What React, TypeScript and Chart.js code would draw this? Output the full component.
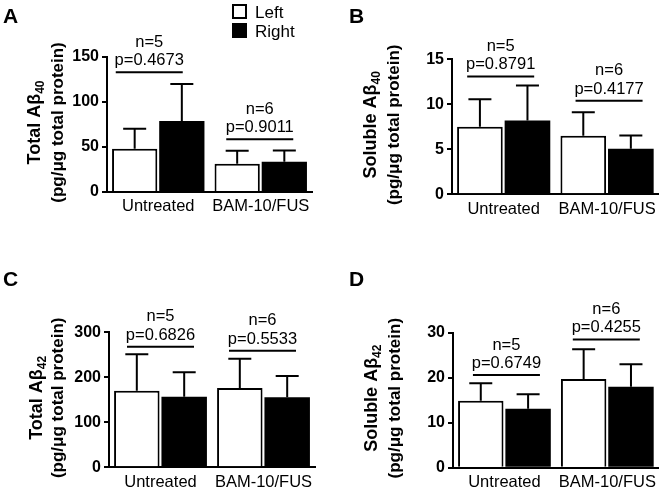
import React, { useEffect, useRef } from 'react';
import { Chart, registerables } from 'chart.js';

Chart.register(...registerables);

const FF = 'Arial, "Liberation Sans", Helvetica, sans-serif';

// Shared
const categories = ['Untreated', 'BAM-10/FUS'];
const seriesNames = ['Left', 'Right'];
const nLabels = ['n=5', 'n=6'];
const unitLabel = '(pg/\u03bcg total protein)';

// Panel A: Total Aβ40
const totalAb40Left = [48, 31.5];
const totalAb40LeftSem = [22.3, 14.2];
const totalAb40Right = [79, 33.5];
const totalAb40RightSem = [41, 12.7];
const totalAb40Bracket = [133, 58.5];
const totalAb40P = ['p=0.4673', 'p=0.9011'];
const totalAb40Max = 150;
const totalAb40Step = 50;

// Panel B: Soluble Aβ40
const solubleAb40Left = [7.5, 6.5];
const solubleAb40LeftSem = [3.05, 2.63];
const solubleAb40Right = [8.2, 5.07];
const solubleAb40RightSem = [3.88, 1.45];
const solubleAb40Bracket = [13.1, 10.4];
const solubleAb40P = ['p=0.8791', 'p=0.4177'];
const solubleAb40Max = 15;
const solubleAb40Step = 5;

// Panel C: Total Aβ42
const totalAb42Left = [170, 176];
const totalAb42LeftSem = [81, 65];
const totalAb42Right = [157, 155.5];
const totalAb42RightSem = [54, 47.5];
const totalAb42Bracket = [268, 259];
const totalAb42P = ['p=0.6826', 'p=0.5533'];
const totalAb42Max = 300;
const totalAb42Step = 100;

// Panel D: Soluble Aβ42
const solubleAb42Left = [14.9, 19.7];
const solubleAb42LeftSem = [3.85, 6.6];
const solubleAb42Right = [13.1, 18.0];
const solubleAb42RightSem = [3.2, 5.0];
const solubleAb42Bracket = [20.6, 28.5];
const solubleAb42P = ['p=0.6749', 'p=0.4255'];
const solubleAb42Max = 30;
const solubleAb42Step = 10;

type Area = { left: number; right: number; top: number; bottom: number };
type PanelCfg = {
  letter: string;
  left: number[];
  leftErr: number[];
  right: number[];
  rightErr: number[];
  bracket: number[];
  pLabels: string[];
  max: number;
  step: number;
  titleMain: string;
  titleSub: string;
  area: Area;
  pos: { x: number; y: number };
  letterPos: [number, number];
  titleX: [number, number];
  dx: number[];
  legend: boolean;
};

const W = 331;
const H = 246;

const panels: PanelCfg[] = [
  {
    letter: 'A', left: totalAb40Left, leftErr: totalAb40LeftSem, right: totalAb40Right, rightErr: totalAb40RightSem,
    bracket: totalAb40Bracket, pLabels: totalAb40P, max: totalAb40Max, step: totalAb40Step,
    titleMain: 'Total A\u03b2', titleSub: '40',
    area: { left: 107, right: 312, top: 57, bottom: 192 }, pos: { x: 0, y: 0 },
    letterPos: [3, 23], titleX: [40, 63], dx: [-9, -1], legend: true,
  },
  {
    letter: 'B', left: solubleAb40Left, leftErr: solubleAb40LeftSem, right: solubleAb40Right, rightErr: solubleAb40RightSem,
    bracket: solubleAb40Bracket, pLabels: solubleAb40P, max: solubleAb40Max, step: solubleAb40Step,
    titleMain: 'Soluble A\u03b2', titleSub: '40',
    area: { left: 121, right: 327.75, top: 59.3, bottom: 194.3 }, pos: { x: 331, y: 0 },
    letterPos: [18, 23], titleX: [45, 68], dx: [-3, 2], legend: false,
  },
  {
    letter: 'C', left: totalAb42Left, leftErr: totalAb42LeftSem, right: totalAb42Right, rightErr: totalAb42RightSem,
    bracket: totalAb42Bracket, pLabels: totalAb42P, max: totalAb42Max, step: totalAb42Step,
    titleMain: 'Total A\u03b2', titleSub: '42',
    area: { left: 109, right: 315, top: 86.3, bottom: 221.3 }, pos: { x: 0, y: 246 },
    letterPos: [3, 40], titleX: [42, 63], dx: [0, -1], legend: false,
  },
  {
    letter: 'D', left: solubleAb42Left, leftErr: solubleAb42LeftSem, right: solubleAb42Right, rightErr: solubleAb42RightSem,
    bracket: solubleAb42Bracket, pLabels: solubleAb42P, max: solubleAb42Max, step: solubleAb42Step,
    titleMain: 'Soluble A\u03b2', titleSub: '42',
    area: { left: 122, right: 327.75, top: 86.7, bottom: 221.7 }, pos: { x: 331, y: 246 },
    letterPos: [18, 40], titleX: [46, 69], dx: [2, -1], legend: false,
  },
];

function makeDecor(p: PanelCfg) {
  const errs = [p.leftErr, p.rightErr];
  return {
    id: 'decor' + p.letter,
    afterDatasetsDraw(chart: any) {
      const ctx = chart.ctx as CanvasRenderingContext2D;
      const ys = chart.scales.y;
      ctx.save();
      ctx.strokeStyle = '#000';
      ctx.lineWidth = 2;
      chart.data.datasets.forEach((ds: any, i: number) => {
        const meta = chart.getDatasetMeta(i);
        meta.data.forEach((bar: any, j: number) => {
          const v = ds.data[j];
          const top = ys.getPixelForValue(v + errs[i][j]);
          ctx.beginPath();
          ctx.moveTo(bar.x, bar.y);
          ctx.lineTo(bar.x, top);
          ctx.moveTo(bar.x - 11.5, top);
          ctx.lineTo(bar.x + 11.5, top);
          ctx.stroke();
        });
      });
      ctx.restore();
    },
    afterDraw(chart: any) {
      const ctx = chart.ctx as CanvasRenderingContext2D;
      const xs = chart.scales.x;
      const ys = chart.scales.y;
      const ca = chart.chartArea;
      ctx.save();
      ctx.fillStyle = '#000';
      ctx.strokeStyle = '#000';

      // brackets and labels
      categories.forEach((_, j) => {
        const cx = xs.getPixelForValue(j) + p.dx[j];
        const ly = ys.getPixelForValue(p.bracket[j]);
        ctx.lineWidth = 2;
        ctx.beginPath();
        ctx.moveTo(cx - 33.5, ly);
        ctx.lineTo(cx + 33.5, ly);
        ctx.stroke();
        ctx.font = `16.5px ${FF}`;
        ctx.textAlign = 'center';
        ctx.textBaseline = 'alphabetic';
        ctx.fillText(p.pLabels[j], cx, ly - 7);
        ctx.fillText(nLabels[j], cx, ly - 25.5);
      });

      // y-axis title (two lines, rotated)
      const cy = (ca.top + ca.bottom) / 2 - 2;
      ctx.save();
      ctx.translate(p.titleX[0], cy);
      ctx.rotate(-Math.PI / 2);
      ctx.textAlign = 'left';
      ctx.font = `bold 18px ${FF}`;
      const w1 = ctx.measureText(p.titleMain).width;
      ctx.font = `bold 12px ${FF}`;
      const w2 = ctx.measureText(p.titleSub).width;
      const start = -(w1 + w2) / 2;
      ctx.font = `bold 18px ${FF}`;
      ctx.fillText(p.titleMain, start, 0);
      ctx.font = `bold 12px ${FF}`;
      ctx.fillText(p.titleSub, start + w1, 4);
      ctx.restore();

      ctx.save();
      ctx.translate(p.titleX[1], cy);
      ctx.rotate(-Math.PI / 2);
      ctx.textAlign = 'center';
      ctx.font = `bold 17px ${FF}`;
      ctx.fillText(unitLabel, 0, 0);
      ctx.restore();

      // panel letter
      ctx.font = `bold 21px ${FF}`;
      ctx.textAlign = 'left';
      ctx.textBaseline = 'alphabetic';
      ctx.fillText(p.letter, p.letterPos[0], p.letterPos[1]);

      // legend
      if (p.legend) {
        ctx.lineWidth = 2;
        ctx.fillStyle = '#fff';
        ctx.fillRect(233, 5, 13, 13);
        ctx.strokeRect(233, 5, 13, 13);
        ctx.fillStyle = '#000';
        ctx.fillRect(232, 23, 15, 15);
        ctx.font = `17px ${FF}`;
        ctx.fillText(seriesNames[0], 255, 18);
        ctx.fillText(seriesNames[1], 255, 37);
      }
      ctx.restore();
    },
  };
}

function Panel({ cfg }: { cfg: PanelCfg }) {
  const ref = useRef<HTMLCanvasElement | null>(null);
  useEffect(() => {
    if (!ref.current) return;
    const a = cfg.area;
    const chart = new Chart(ref.current, {
      type: 'bar',
      data: {
        labels: categories,
        datasets: [
          {
            label: seriesNames[0], data: cfg.left, backgroundColor: '#fff', borderColor: '#000', borderWidth: 2,
            categoryPercentage: 0.92, barPercentage: 0.96,
          },
          {
            label: seriesNames[1], data: cfg.right, backgroundColor: '#000', borderColor: '#000', borderWidth: 0,
            categoryPercentage: 0.92, barPercentage: 0.96,
          },
        ],
      },
      options: {
        responsive: false,
        animation: false,
        events: [],
        layout: { padding: { left: 0, top: a.top, right: W - a.right, bottom: 0 } },
        plugins: { legend: { display: false }, tooltip: { enabled: false }, title: { display: false } },
        scales: {
          x: {
            type: 'category',
            offset: true,
            grid: { display: false, drawTicks: false },
            border: { display: true, color: '#000', width: 2 },
            ticks: { color: '#000', font: { family: FF, size: 16.5 }, padding: 5, maxRotation: 0, autoSkip: false },
            afterFit: (s: any) => { s.height = H - a.bottom; },
          },
          y: {
            min: 0,
            max: cfg.max,
            ticks: { stepSize: cfg.step, color: '#000', font: { family: FF, size: 16, weight: 'bold' }, padding: 3 },
            grid: { drawOnChartArea: false, drawTicks: true, tickLength: 5, color: '#000', lineWidth: 2 },
            border: { display: true, color: '#000', width: 2 },
            afterFit: (s: any) => { s.width = a.left; },
          },
        },
      } as any,
      plugins: [makeDecor(cfg)],
    });
    return () => chart.destroy();
  }, [cfg]);
  return (
    <canvas
      ref={ref}
      width={W}
      height={H}
      style={{ position: 'absolute', left: cfg.pos.x, top: cfg.pos.y, width: W, height: H }}
    />
  );
}

export default function App() {
  return (
    <div style={{ position: 'absolute', left: 0, top: 0, width: 662, height: 492, background: '#fff' }}>
      {panels.map((p) => (
        <Panel key={p.letter} cfg={p} />
      ))}
    </div>
  );
}
